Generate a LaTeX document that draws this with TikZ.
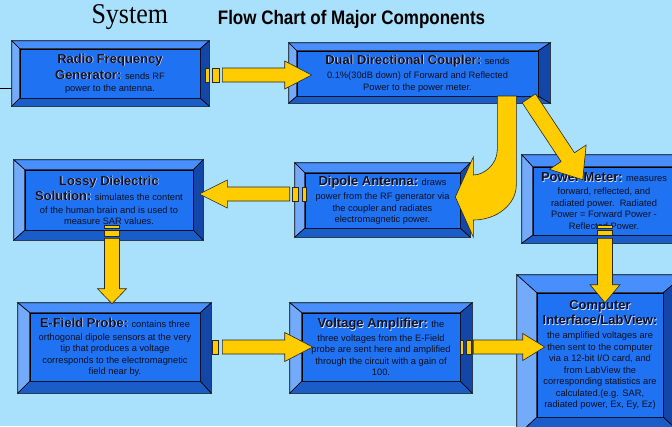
\documentclass[tikz,border=0pt]{standalone}
\usepackage{fontspec}
\setmainfont{Liberation Sans}
\newfontfamily\titleserif{Liberation Serif}
\usetikzlibrary{calc}
\definecolor{skybg}{RGB}{169,224,251}
\definecolor{facebl}{RGB}{31,114,242}
\definecolor{bevtopc}{RGB}{72,142,252}
\definecolor{bevleftc}{RGB}{115,170,250}
\definecolor{bevrightc}{RGB}{20,70,168}
\definecolor{bevbotc}{RGB}{26,92,200}
\definecolor{arrowyl}{RGB}{255,204,0}
\definecolor{arrowln}{RGB}{40,40,40}
\definecolor{textdk}{RGB}{16,16,32}
\definecolor{hilite}{RGB}{215,228,255}

\newcommand{\boxfont}{\fontsize{9.3}{11.5}\selectfont\setlength{\lineskiplimit}{-20pt}}

\tikzset{
  face/.style={draw=black, line width=0.6, fill=facebl, inner sep=0pt, align=center,
    text=textdk, font=\boxfont},
  bevtop/.style={draw=black, line width=0.6, fill=bevtopc},
  bevleft/.style={draw=black, line width=0.6, fill=bevleftc},
  bevright/.style={draw=black, line width=0.6, fill=bevrightc},
  bevbot/.style={draw=black, line width=0.6, fill=bevbotc},
  yarrow/.style={draw=arrowln, line width=0.6, fill=arrowyl},
}

\newcommand{\hdg}[1]{{\fontsize{13}{11.5}\selectfont\bfseries\rlap{\kern0.7pt\raisebox{-0.7pt}{\textcolor{hilite}{#1}}}#1}}

\newcommand{\bevelframe}[5]{%
  \coordinate (#1-a) at ($(#1.north west)+(-#2,-#3)$);
  \coordinate (#1-b) at ($(#1.north east)+(#4,-#3)$);
  \coordinate (#1-c) at ($(#1.south east)+(#4,#5)$);
  \coordinate (#1-d) at ($(#1.south west)+(-#2,#5)$);
  \filldraw[bevtop] (#1-a) -- (#1-b) -- (#1.north east) -- (#1.north west) -- cycle;
  \filldraw[bevleft] (#1-a) -- (#1.north west) -- (#1.south west) -- (#1-d) -- cycle;
  \filldraw[bevright] (#1-b) -- (#1-c) -- (#1.south east) -- (#1.north east) -- cycle;
  \filldraw[bevbot] (#1-d) -- (#1.south west) -- (#1.south east) -- (#1-c) -- cycle;
}

\newcommand{\barrow}[5]{%
  \coordinate (ba-t) at (#1);
  \coordinate (ba-h) at (#2);
  \coordinate (ba-b) at ($(ba-h)!#5!(ba-t)$);
  \filldraw[yarrow] ($(ba-t)!#3!90:(ba-h)$) -- ($(ba-b)!#3!90:(ba-h)$) -- ($(ba-b)!#4!90:(ba-h)$)
    -- (ba-h) -- ($(ba-b)!#4!-90:(ba-h)$) -- ($(ba-b)!#3!-90:(ba-h)$) -- ($(ba-t)!#3!-90:(ba-h)$) -- cycle;
}

\begin{document}
\begin{tikzpicture}[x=1pt, y=-1pt]
\useasboundingbox (0,0) rectangle (672,426);
\clip (0,0) rectangle (672,426);
\fill[skybg] (0,0) rectangle (672,426);

\node[font=\titleserif\fontsize{26}{28}\selectfont, anchor=base west, yscale=1.1, transform shape] (sys) at (88,23) {System};
\node[font=\fontsize{17}{20}\selectfont\bfseries, yscale=1.15, transform shape] (title) at (351.5,19) {Flow Chart of Major Components};

\node[face, minimum width=180, minimum height=49] (rf) at (110,73.5)
  {\hdg{Radio Frequency}\\[4.5pt]\hdg{Generator:} sends RF\\[0.5pt]power to the antenna.};
\node[face, minimum width=241, minimum height=45] (coupler) at (417.5,73.5)
  {\hdg{Dual Directional Coupler:} sends\\[3pt]0.1\%(30dB down) of Forward and Reflected\\Power to the power meter.};
\node[face, minimum width=168, minimum height=60] (lossy) at (109,200)
  {\hdg{Lossy Dielectric}\\[3.5pt]\hdg{Solution:} simulates the content\\[2pt]of the human brain and is used to\\[-1pt]measure SAR values.};
\node[face, minimum width=155, minimum height=55] (dipole) at (382.5,200.5)
  {\hdg{Dipole Antenna:} draws\\[2.5pt]power from the RF generator via\\the coupler and radiates\\electromagnetic power.};
\node[face, minimum width=142, minimum height=68] (power) at (604,201)
  {\hdg{Power Meter:} measures\\[1.5pt]forward, reflected, and\\radiated power.\ \ Radiated\\Power = Forward Power -\\Reflected Power.};
\node[face, minimum width=170, minimum height=68] (efield) at (115,347)
  {\hdg{E-Field Probe:} contains three\\[1.5pt]orthogonal dipole sensors at the very\\tip that produces a voltage\\corresponds to the electromagnetic\\field near by.};
\node[face, minimum width=158, minimum height=68] (volt) at (381,347)
  {\hdg{Voltage Amplifier:} the\\[2.5pt]three voltages from the E-Field\\probe are sent here and amplified\\through the circuit with a gain of\\100.};
\node[face, minimum width=126, minimum height=124] (computer) at (600,355)
  {\hdg{Computer}\\[3.5pt]\hdg{Interface/LabView:}\\[2.5pt]the amplified voltages are\\then sent to the computer\\via a 12-bit I/O card, and\\from LabView the\\corresponding statistics are\\calculated.(e.g. SAR,\\radiated power, Ex, Ey, Ez)};

\bevelframe{rf}{8}{8}{9}{8}
\bevelframe{coupler}{8}{8}{12}{7}
\bevelframe{lossy}{11}{10}{10}{10}
\bevelframe{dipole}{10}{10}{10}{9}
\bevelframe{power}{11}{12}{11}{8}
\bevelframe{efield}{12}{10}{11}{12}
\bevelframe{volt}{12}{10}{12}{12}
\bevelframe{computer}{20}{18}{21}{19}

\coordinate (lft) at (0,88);
\draw[line width=0.6] (lft) -- (lft -| rf-a);

\filldraw[yarrow] ($(rf.east)+(5,-5.5)$) rectangle ($(rf.east)+(9,8.5)$);
\filldraw[yarrow] ($(rf.east)+(12,-5.5)$) rectangle ($(rf.east)+(19,8.5)$);
\barrow{$(rf.east)+(22,1.5)$}{$(coupler.west)+(15,1.5)$}{7pt}{14pt}{27pt}

\begin{scope}[shift={(dipole.east)}]
  \filldraw[yarrow] (37,-104.5) -- (37,-50.5) .. controls (37,-36.5) and (24,-25.5) .. (13,-25.5)
    -- (13,-43.5) -- (-5,-3.5) -- (13,36.5) -- (13,19.5)
    .. controls (37,19.5) and (56,3.5) .. (56,-15.5) -- (56,-104.5) -- cycle;
\end{scope}

\barrow{$(coupler.south east)+(-9.5,2)$}{$(power.north west)+(50,13)$}{8pt}{22pt}{27pt}

\filldraw[yarrow] ($(dipole.west)+(-12,-13.5)$) rectangle ($(dipole.west)+(-6,0.5)$);
\filldraw[yarrow] ($(dipole.west)+(-2,-13.5)$) rectangle ($(dipole.west)+(2,0.5)$);
\barrow{$(dipole.west)+(-15,-6.5)$}{$(lossy.east)+(6,-6)$}{7pt}{14pt}{28pt}

\filldraw[yarrow] ($(lossy.south)+(-4.5,-5)$) rectangle ($(lossy.south)+(10.5,-2)$);
\filldraw[yarrow] ($(lossy.south)+(-4.5,0)$) rectangle ($(lossy.south)+(10.5,6)$);
\barrow{$(lossy.south)+(3,8)$}{$(efield.north)+(-3,-9)$}{7.5pt}{14.5pt}{15pt}

\filldraw[yarrow] ($(power.south)+(-6.5,-10)$) rectangle ($(power.south)+(8.5,-7)$);
\filldraw[yarrow] ($(power.south)+(-6.5,-5)$) rectangle ($(power.south)+(8.5,0)$);
\barrow{$(power.south)+(1,3)$}{$(computer.north)+(5,10)$}{7.5pt}{15pt}{18pt}

\filldraw[yarrow] ($(efield.east)+(12,-7)$) rectangle ($(efield.east)+(18,7)$);
\barrow{$(efield.east)+(22,0)$}{$(volt.west)+(11,0)$}{7pt}{14.5pt}{28pt}

\filldraw[yarrow] ($(volt.east)+(0,-7)$) rectangle ($(volt.east)+(3,7)$);
\filldraw[yarrow] ($(volt.east)+(6,-7)$) rectangle ($(volt.east)+(11,7)$);
\barrow{$(volt.east)+(13,0)$}{$(computer.west)+(8,-8)$}{7pt}{13.5pt}{22pt}

\end{tikzpicture}
\end{document}
